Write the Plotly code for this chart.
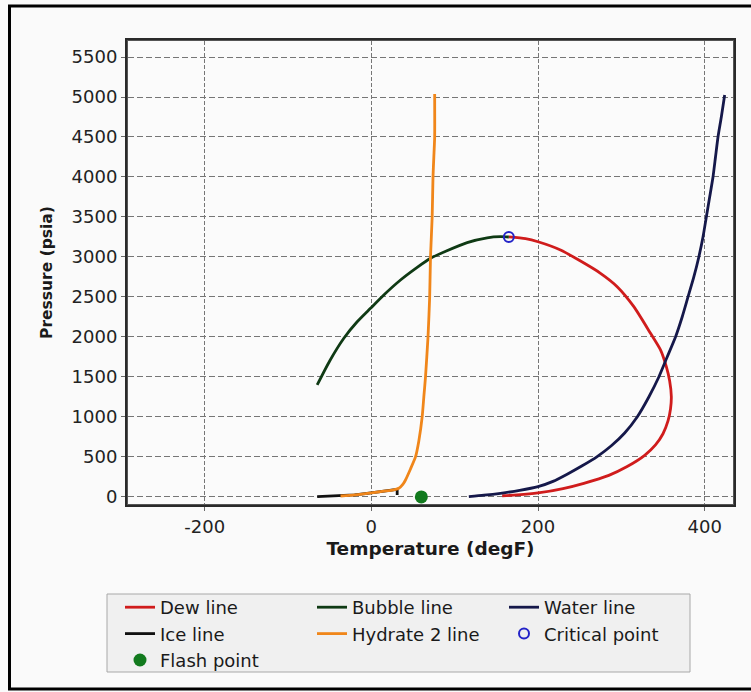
import plotly.graph_objects as go

# Phase envelope data (temperature in degF, pressure in psia)
dew_t = [165, 185, 200, 227, 250, 275, 295, 315, 335, 347, 354, 358, 360, 359, 356, 350, 341, 328, 307, 285, 255, 230, 200, 175, 157]
dew_p = [3250, 3228, 3190, 3087, 2955, 2796, 2629, 2379, 2046, 1838, 1629, 1450, 1254, 1100, 950, 790, 650, 520, 380, 270, 171, 105, 50, 25, 15]

bubble_t = [-65, -50, -33, -17, -1, 15, 35, 55, 71, 90, 115, 139, 155, 165]
bubble_p = [1400, 1700, 1984, 2190, 2358, 2525, 2712, 2870, 2984, 3075, 3180, 3240, 3254, 3250]

water_t = [117, 135, 155, 178, 200, 218, 235, 253, 271, 288, 304, 319, 333, 345, 355, 365, 373, 380, 387, 393, 398, 402, 406, 410, 413, 416, 420, 424]
water_p = [5, 22, 46, 82, 129, 195, 285, 390, 505, 640, 800, 1000, 1250, 1500, 1750, 2000, 2250, 2500, 2750, 3000, 3250, 3500, 3750, 4000, 4250, 4500, 4750, 5025]

ice_t = [-65, -37, -20, -5, 10, 25, 31, 31]
ice_p = [5, 12, 25, 46, 65, 85, 95, 25]

hydrate_t = [-37, -20, -5, 10, 25, 33, 38, 41, 47, 53, 57, 61, 63, 65, 68, 70, 71, 73, 74, 75, 76, 76]
hydrate_p = [12, 25, 46, 65, 85, 108, 160, 212, 350, 500, 700, 1000, 1250, 1500, 2000, 2500, 3000, 3500, 4000, 4250, 4500, 5037]

critical_t = [165]
critical_p = [3250]

flash_t = [60]
flash_p = [0]

x_ticks = [-200, 0, 200, 400]
x_labels = ["-200", "0", "200", "400"]
y_ticks = [0, 500, 1000, 1500, 2000, 2500, 3000, 3500, 4000, 4500, 5000, 5500]

FONT = "DejaVu Sans"
W, H = 751, 692

# plot area in pixels, used to place the frames
PL, PR, PT, PB = 128, 733, 41, 504
PW, PH = PR - PL, PB - PT


def px_x(x):
    return (x - PL) / PW


def px_y(y):
    return (PB - y) / PH


fig = go.Figure()
fig.add_trace(go.Scatter(x=dew_t, y=dew_p, mode="lines", name="Dew line",
                         line=dict(color="#d01c1c", width=2.8, shape="spline", smoothing=0.6)))
fig.add_trace(go.Scatter(x=bubble_t, y=bubble_p, mode="lines", name="Bubble line",
                         line=dict(color="#0f3a14", width=2.8, shape="spline", smoothing=0.6)))
fig.add_trace(go.Scatter(x=water_t, y=water_p, mode="lines", name="Water line",
                         line=dict(color="#15184a", width=2.8, shape="spline", smoothing=0.6)))
fig.add_trace(go.Scatter(x=ice_t, y=ice_p, mode="lines", name="Ice line",
                         line=dict(color="#111111", width=2.8)))
fig.add_trace(go.Scatter(x=hydrate_t, y=hydrate_p, mode="lines", name="Hydrate 2 line",
                         line=dict(color="#f0861a", width=2.8, shape="spline", smoothing=0.5)))
fig.add_trace(go.Scatter(x=critical_t, y=critical_p, mode="markers", name="Critical point",
                         marker=dict(symbol="circle-open", color="#2424c8", size=10,
                                     line=dict(width=2))))
fig.add_trace(go.Scatter(x=flash_t, y=flash_p, mode="markers", name="Flash point",
                         marker=dict(symbol="circle", color="#127a1e", size=13)))

axis_common = dict(
    showgrid=True, gridcolor="#767676", gridwidth=1.3,
    zeroline=False, showline=True, linecolor="#555555", linewidth=1, mirror=True,
    ticks="outside", ticklen=6, tickcolor="#6a6a6a",
    tickfont=dict(family=FONT, size=18, color="#222222"),
)

fig.update_layout(
    width=W, height=H,
    margin=dict(l=PL, r=W - PR, t=PT, b=H - PB),
    paper_bgcolor="#fafafa", plot_bgcolor="#fbfbfb",
    font=dict(family=FONT, color="#222222"),
    xaxis=dict(axis_common, range=[-292, 434], tickvals=x_ticks, ticktext=x_labels,
               griddash="4px,2px",
               title=dict(text="<b>Temperature (degF)</b>",
                          font=dict(family=FONT, size=18.5, color="#1a1a1a"), standoff=6)),
    yaxis=dict(axis_common, range=[-88, 5700], tickvals=y_ticks,
               griddash="6px,3px",
               title=dict(text="<b>Pressure (psia)</b>",
                          font=dict(family=FONT, size=15.5, color="#1a1a1a"), standoff=15)),
    legend=dict(orientation="h", xref="container", yref="container",
                x=109 / W, xanchor="left", y=1 - 589 / H, yanchor="top",
                bgcolor="rgba(0,0,0,0)", borderwidth=0,
                entrywidth=136, indentation=11,
                font=dict(family=FONT, size=18, color="#1a1a1a"),
                tracegroupgap=0),
    showlegend=True,
)

# Legend panel
fig.add_shape(type="rect", xref="paper", yref="paper",
              x0=px_x(107), x1=px_x(690), y0=px_y(672), y1=px_y(594),
              line=dict(color="#a8a8a8", width=1), fillcolor="#f0f0f0", layer="below")
# Double frame around the plotting area
fig.add_shape(type="rect", xref="paper", yref="paper",
              x0=-2 / PW, x1=1 + 2 / PW, y0=-2 / PH, y1=1 + 2 / PH,
              line=dict(color="#2a2a2a", width=2), fillcolor="rgba(0,0,0,0)", layer="above")
# Outer frame around the whole figure (right edge runs past the page)
fig.add_shape(type="rect", xref="paper", yref="paper",
              x0=px_x(9.5), x1=px_x(770), y0=px_y(689), y1=px_y(6),
              line=dict(color="#000000", width=3), fillcolor="rgba(0,0,0,0)", layer="above")

fig.write_html("out.html")
